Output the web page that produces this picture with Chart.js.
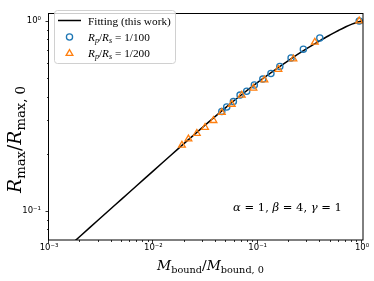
<!DOCTYPE html>
<html><head><meta charset="utf-8">
<script src="https://cdn.jsdelivr.net/npm/chart.js@4"></script>
<style>html,body{margin:0;padding:0;background:#fff}canvas{display:block}</style>
</head><body>
<canvas id="c" width="374" height="281"></canvas>
<script>
// ---- data ----
const fitX = [0.0015, 0.002, 0.003, 0.005, 0.007, 0.01, 0.015, 0.02, 0.03, 0.05, 0.07, 0.1, 0.15, 0.2, 0.3, 0.4, 0.5, 0.6, 0.7, 0.8, 0.9, 1.0, 1.05];
const fitY = [0.0641, 0.0738, 0.0901, 0.1157, 0.1364, 0.1625, 0.198, 0.2281, 0.277, 0.352, 0.4085, 0.4746, 0.557, 0.622, 0.718, 0.790, 0.846, 0.893, 0.932, 0.962, 0.984, 1.0, 1.007];
const rs100X = [0.0453, 0.0505, 0.0585, 0.0678, 0.0785, 0.0929, 0.112, 0.134, 0.163, 0.209, 0.274, 0.394, 0.94];
const rs100Y = [0.334, 0.352, 0.376, 0.407, 0.426, 0.460, 0.494, 0.529, 0.576, 0.638, 0.710, 0.813, 1.0];
const rs200X = [0.0188, 0.0217, 0.0261, 0.0313, 0.0377, 0.0453, 0.0564, 0.0703, 0.0910, 0.116, 0.158, 0.220, 0.353, 0.94];
const rs200Y = [0.222, 0.239, 0.256, 0.275, 0.299, 0.330, 0.364, 0.407, 0.443, 0.489, 0.556, 0.631, 0.773, 1.0];
const xMajorTicks = [0.001, 0.01, 0.1, 1];
const yMajorTicks = [0.1, 1];
const xTickLabels = ['10\u207B\u00B3', '10\u207B\u00B2', '10\u207B\u00B9', '10\u2070'];
const yTickLabels = ['10\u207B\u00B9', '10\u2070'];
const xLimits = [0.001, 1.022];
const yLimits = [0.0703, 1.099];

const LIB = '"Liberation Serif", serif';
const DJV = '"DejaVu Serif", serif';
const SANS = '"DejaVu Sans", sans-serif';
const pts = (xs, ys) => xs.map((x, i) => ({x: x, y: ys[i]}));

function richWidth(ctx, parts, fam) {
  let w = 0;
  for (const p of parts) { ctx.font = `${p[1]} ${p[2]}px ${fam}`; w += ctx.measureText(p[0]).width; }
  return w;
}
function fit(ctx, parts, targetW, fam) {
  const k = targetW / richWidth(ctx, parts, fam);
  return parts.map(p => [p[0], p[1], p[2] * k, (p[3] || 0) * k]);
}
function rich(ctx, parts, x, y, align, fam) {
  const w = richWidth(ctx, parts, fam);
  let cx = align === 'center' ? x - w / 2 : (align === 'right' ? x - w : x);
  ctx.textAlign = 'left'; ctx.textBaseline = 'alphabetic'; ctx.fillStyle = '#000';
  for (const p of parts) {
    ctx.font = `${p[1]} ${p[2]}px ${fam}`;
    ctx.fillText(p[0], cx, y + (p[3] || 0));
    cx += ctx.measureText(p[0]).width;
  }
}
function minorValues(lo, hi) {
  const out = [];
  for (let e = Math.floor(Math.log10(lo)) - 1; e <= Math.ceil(Math.log10(hi)); e++) {
    for (let k = 1; k <= 9; k++) {
      const v = k * Math.pow(10, e);
      if (v >= lo * 1.0001 && v <= hi * 0.9999) out.push({v: v, major: k === 1});
    }
  }
  return out;
}
function drawCircle(ctx, x, y, r, color) {
  ctx.beginPath(); ctx.arc(x, y, r, 0, Math.PI * 2);
  ctx.strokeStyle = color; ctx.lineWidth = 1.3; ctx.stroke();
}
function drawTri(ctx, x, y, r, color) {
  ctx.beginPath();
  for (let i = 0; i < 3; i++) {
    const a = i * 2 * Math.PI / 3;
    const px = x + Math.sin(a) * r, py = y - Math.cos(a) * r;
    if (i === 0) ctx.moveTo(px, py); else ctx.lineTo(px, py);
  }
  ctx.closePath(); ctx.strokeStyle = color; ctx.lineWidth = 1.3; ctx.stroke();
}

const decor = {
  id: 'decor',
  afterDraw(chart) {
    const ctx = chart.ctx, a = chart.chartArea;
    const xs = chart.scales.x, ys = chart.scales.y;
    ctx.save();
    // frame
    ctx.strokeStyle = '#000'; ctx.lineWidth = 1;
    ctx.strokeRect(Math.round(a.left) - 0.5, Math.round(a.top) + 0.5, Math.round(a.right - a.left) + 0.5, Math.round(a.bottom - a.top) - 0.5);
    // ticks
    ctx.beginPath();
    for (const t of minorValues(xLimits[0] * 0.9999, xLimits[1])) {
      const px = Math.round(xs.getPixelForValue(t.v)) - 0.5;
      const len = t.major ? 3.5 : 2;
      ctx.moveTo(px, a.bottom); ctx.lineTo(px, a.bottom + len);
    }
    for (const t of minorValues(yLimits[0], yLimits[1])) {
      const py = Math.round(ys.getPixelForValue(t.v)) + 0.5;
      const len = t.major ? 3.5 : 2;
      ctx.moveTo(a.left, py); ctx.lineTo(a.left - len, py);
    }
    ctx.lineWidth = 0.8; ctx.stroke();
    // x title
    rich(ctx, fit(ctx, [['M', 'italic', 13.5], ['bound', '', 9.5, 3], ['/', '', 13.5], ['M', 'italic', 13.5], ['bound, 0', '', 9.5, 3]], 107, DJV), 210.5, 270, 'center', DJV);
    // y title
    ctx.save(); ctx.translate(20.5, 139.5); ctx.rotate(-Math.PI / 2);
    rich(ctx, fit(ctx, [['R', 'italic', 13.5], ['max', '', 9.5, 3], ['/', '', 13.5], ['R', 'italic', 13.5], ['max, 0', '', 9.5, 3]], 107, DJV), 0, 0, 'center', DJV);
    ctx.restore();
    // legend
    ctx.beginPath();
    ctx.roundRect(54.5, 10.5, 121, 53, 3);
    ctx.fillStyle = 'rgba(255,255,255,0.8)'; ctx.fill();
    ctx.strokeStyle = '#d0d0d0'; ctx.lineWidth = 1; ctx.stroke();
    ctx.beginPath(); ctx.moveTo(58, 20.5); ctx.lineTo(81, 20.5);
    ctx.strokeStyle = '#000'; ctx.lineWidth = 1.5; ctx.stroke();
    drawCircle(ctx, 69.5, 37, 3.1, '#1f77b4');
    drawTri(ctx, 69.5, 53.5, 3.9, '#ff7f0e');
    const k = 83 / richWidth(ctx, [['Fitting (this work)', '', 12]], LIB);
    const L = (s) => 12 * k * s;
    rich(ctx, [['Fitting (this work)', '', L(1)]], 88, 25, 'left', LIB);
    rich(ctx, [['R', 'italic', L(1)], ['p', 'italic', L(0.72), L(0.2)], ['/', '', L(1)], ['R', 'italic', L(1)], ['s', 'italic', L(0.72), L(0.2)], [' = 1/100', '', L(1)]], 88, 41, 'left', LIB);
    rich(ctx, [['R', 'italic', L(1)], ['p', 'italic', L(0.72), L(0.2)], ['/', '', L(1)], ['R', 'italic', L(1)], ['s', 'italic', L(0.72), L(0.2)], [' = 1/200', '', L(1)]], 88, 57, 'left', LIB);
    // annotation
    rich(ctx, fit(ctx, [['\u03B1', 'italic', 12], [' = 1, ', '', 12], ['\u03B2', 'italic', 12], [' = 4, ', '', 12], ['\u03B3', 'italic', 12], [' = 1', '', 12]], 109, DJV), 287.5, 211, 'center', DJV);
    ctx.restore();
  }
};

new Chart(document.getElementById('c'), {
  type: 'scatter',
  data: {
    datasets: [
      { label: 'Rp/Rs = 1/200', data: pts(rs200X, rs200Y), pointStyle: 'triangle', pointRadius: 3.9,
        borderColor: '#ff7f0e', backgroundColor: 'rgba(0,0,0,0)', pointBorderWidth: 1.3, order: 1, clip: 0 },
      { label: 'Rp/Rs = 1/100', data: pts(rs100X, rs100Y), pointStyle: 'circle', pointRadius: 3.1,
        borderColor: '#1f77b4', backgroundColor: 'rgba(0,0,0,0)', pointBorderWidth: 1.3, order: 2, clip: 0 },
      { label: 'Fitting (this work)', data: pts(fitX, fitY), showLine: true, pointRadius: 0, borderColor: '#000',
        borderWidth: 1.5, cubicInterpolationMode: 'monotone', order: 3, clip: 0 }
    ]
  },
  options: {
    responsive: false, animation: false, devicePixelRatio: 1,
    layout: { padding: { left: 0, right: 11, top: 6, bottom: 0 } },
    plugins: { legend: { display: false }, tooltip: { enabled: false } },
    scales: {
      x: {
        type: 'logarithmic', min: xLimits[0], max: xLimits[1],
        afterFit: (s) => { s.height = 41; },
        afterBuildTicks: (s) => { s.ticks = xMajorTicks.map(v => ({value: v, major: true})); },
        grid: { display: false, drawTicks: false }, border: { display: false },
        ticks: { autoSkip: false, maxRotation: 0, padding: 3, color: '#000',
          font: { family: SANS, size: 8.5 }, callback: (v, i) => xTickLabels[i] }
      },
      y: {
        type: 'logarithmic', min: yLimits[0], max: yLimits[1],
        afterFit: (s) => { s.width = 49; },
        afterBuildTicks: (s) => { s.ticks = yMajorTicks.map(v => ({value: v, major: true})); },
        grid: { display: false, drawTicks: false }, border: { display: false },
        ticks: { autoSkip: false, padding: 8, color: '#000',
          font: { family: SANS, size: 8.5 }, callback: (v, i) => yTickLabels[i] }
      }
    }
  },
  plugins: [decor]
});
</script>
</body></html>
